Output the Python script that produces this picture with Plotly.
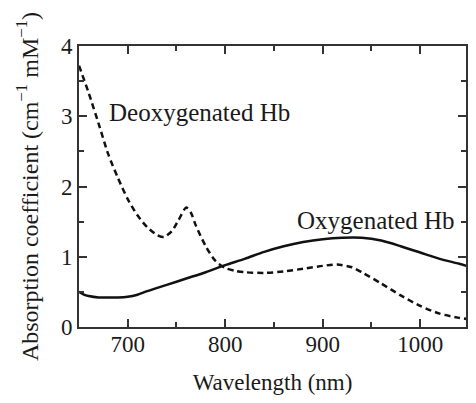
import plotly.graph_objects as go

# Data
oxy_wl = [650, 655, 660, 670, 680, 690, 700, 710, 720, 740, 760, 780, 800, 820, 840, 860, 880, 900, 920, 940, 960, 980, 1000, 1020, 1040, 1050]
oxy_val = [0.50, 0.46, 0.44, 0.42, 0.42, 0.42, 0.43, 0.46, 0.51, 0.60, 0.69, 0.78, 0.88, 0.97, 1.07, 1.15, 1.21, 1.25, 1.27, 1.27, 1.23, 1.15, 1.06, 0.97, 0.90, 0.86]

deoxy_wl = [650, 660, 670, 680, 690, 700, 710, 720, 730, 737, 745, 752, 760, 765, 770, 780, 790, 800, 810, 820, 840, 860, 880, 900, 915, 930, 940, 960, 980, 1000, 1020, 1040, 1050]
deoxy_val = [3.72, 3.33, 2.90, 2.46, 2.12, 1.82, 1.59, 1.42, 1.31, 1.28, 1.36, 1.52, 1.70, 1.62, 1.44, 1.15, 0.94, 0.84, 0.80, 0.78, 0.77, 0.79, 0.83, 0.87, 0.89, 0.85, 0.78, 0.62, 0.45, 0.30, 0.19, 0.13, 0.11]

x_ticks = [700, 800, 900, 1000]
y_ticks = [0, 1, 2, 3, 4]

FONT = "Liberation Serif"
INK = "#1a1a1a"

fig = go.Figure()
fig.add_trace(go.Scatter(x=oxy_wl, y=oxy_val, mode="lines", line=dict(color="#111", width=2.5, shape="spline", smoothing=0.8), name="Oxygenated Hb"))
fig.add_trace(go.Scatter(x=deoxy_wl, y=deoxy_val, mode="lines", line=dict(color="#111", width=2.5, dash="6px,4px", shape="spline", smoothing=0.7), name="Deoxygenated Hb"))

fig.add_annotation(x=679, y=3.06, xref="x", yref="y", text="Deoxygenated Hb", showarrow=False, xanchor="left", yanchor="middle", font=dict(family=FONT, size=25, color=INK))
fig.add_annotation(x=872, y=1.52, xref="x", yref="y", text="Oxygenated Hb", showarrow=False, xanchor="left", yanchor="middle", font=dict(family=FONT, size=25, color=INK))

axis_common = dict(showline=True, linecolor="#333", linewidth=2, mirror="ticks", ticks="inside", tickcolor="#333", tickwidth=2, ticklen=8, showgrid=False, zeroline=False, tickfont=dict(family=FONT, size=23, color=INK))

fig.update_xaxes(range=[650, 1047], tickvals=x_ticks, ticktext=[str(v) for v in x_ticks], ticklabelstandoff=-5,
                 minor=dict(dtick=50, tick0=650, ticks="inside", ticklen=5, tickwidth=2, tickcolor="#333"),
                 title=dict(text="Wavelength (nm)", font=dict(family=FONT, size=23, color=INK), standoff=24),
                 **axis_common)
fig.update_yaxes(range=[0, 4], tickvals=y_ticks, ticktext=[str(v) for v in y_ticks],
                 minor=dict(dtick=0.5, tick0=0, ticks="inside", ticklen=5, tickwidth=2, tickcolor="#333"),
                 title=dict(text="Absorption coefficient (cm<sup>−1</sup> mM<sup>−1</sup>)", font=dict(family=FONT, size=24, color=INK), standoff=16),
                 **axis_common)

fig.update_layout(width=460, height=387, margin=dict(l=71, r=2, t=38, b=68, autoexpand=False),
                  paper_bgcolor="white", plot_bgcolor="white", showlegend=False)

fig.write_html("out.html")
